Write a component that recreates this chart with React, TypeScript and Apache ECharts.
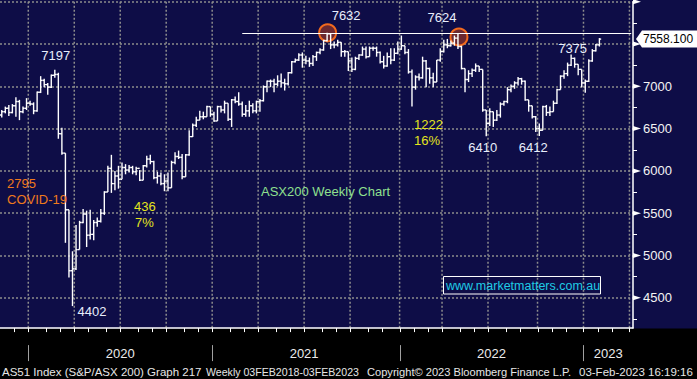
import { useEffect, useRef } from 'react';
import * as echarts from 'echarts';

// ---------- data ----------
const FIRST_WEEK = '2019-11-08';
const WEEK_COUNT = 179; // weekly categories (last ones are empty space on the right)
const weeks: string[] = Array.from({ length: WEEK_COUNT }, (_, i) =>
  new Date(Date.parse(FIRST_WEEK + 'T00:00:00Z') + i * 7 * 86400000).toISOString().slice(0, 10)
);

const open = [
  6660, 6700, 6740, 6690, 6770, 6820, 6700, 6740, 6800, 6790,
  6710, 6930, 7070, 7020, 6990, 7130, 7140, 6440, 6210, 5540,
  4820, 4842, 5070, 5390, 5490, 5240, 5250, 5390, 5405, 5500,
  5750, 6030, 5850, 5940, 5900, 6040, 6010, 6040, 5990, 6030,
  5890, 6060, 6140, 6110, 5920, 5940, 5850, 5880, 5800, 6100,
  6170, 6160, 5930, 6190, 6405, 6540, 6600, 6640, 6640, 6760,
  6670, 6590, 6760, 6720, 6800, 6610, 6840, 6820, 6790, 6670,
  6710, 6770, 6710, 6820, 6830, 6995, 7060, 7060, 7025, 7060,
  7040, 7030, 7160, 7290, 7310, 7370, 7310, 7300, 7270, 7350,
  7400, 7430, 7540, 7620, 7490, 7490, 7520, 7410, 7410, 7300,
  7200, 7330, 7370, 7440, 7350, 7450, 7450, 7400, 7290, 7240,
  7350, 7310, 7390, 7440, 7480, 7400, 7170, 6990, 7110, 7100,
  7300, 7210, 7100, 7050, 7310, 7410, 7490, 7480, 7510, 7570,
  7470, 7210, 7080, 7150, 7190, 7240, 7200, 6720, 6560, 6700,
  6600, 6660, 6790, 6820, 6960, 7000, 7040, 7090, 7060, 6840,
  6770, 6640, 6500, 6480, 6760, 6690, 6700, 6800, 6960, 7120,
  7150, 7250, 7330, 7260, 7200, 7040, 7060, 7300, 7420, 7490,
];
const high = [
  6720, 6760, 6780, 6790, 6870, 6840, 6760, 6860, 6830, 6810,
  6940, 7120, 7090, 7040, 7140, 7197, 7160, 6510, 6210, 5540,
  5050, 5360, 5410, 5550, 5530, 5540, 5420, 5450, 5550, 5760,
  6060, 6190, 6000, 6060, 6100, 6080, 6070, 6060, 6050, 6010,
  6070, 6180, 6190, 6120, 5990, 5980, 5960, 5980, 6120, 6220,
  6240, 6200, 6200, 6480, 6560, 6640, 6710, 6700, 6770, 6760,
  6700, 6770, 6770, 6830, 6800, 6850, 6880, 6930, 6820, 6780,
  6830, 6800, 6830, 6850, 7010, 7070, 7080, 7090, 7130, 7150,
  7090, 7170, 7300, 7330, 7390, 7400, 7360, 7340, 7370, 7410,
  7450, 7550, 7632, 7620, 7530, 7550, 7520, 7430, 7410, 7340,
  7350, 7380, 7470, 7470, 7470, 7470, 7470, 7410, 7360, 7400,
  7450, 7450, 7530, 7600, 7480, 7440, 7200, 7130, 7150, 7350,
  7310, 7220, 7160, 7310, 7450, 7550, 7560, 7540, 7600, 7624,
  7480, 7210, 7190, 7210, 7270, 7240, 7200, 6720, 6740, 6700,
  6720, 6810, 6830, 6990, 7020, 7060, 7110, 7100, 7070, 6840,
  6770, 6650, 6560, 6770, 6780, 6760, 6830, 6970, 7130, 7190,
  7280, 7375, 7340, 7260, 7200, 7080, 7320, 7440, 7500, 7570,
];
const low = [
  6630, 6680, 6650, 6680, 6640, 6600, 6680, 6720, 6770, 6670,
  6700, 6920, 6990, 6900, 6980, 7100, 6380, 6190, 5150, 4740,
  4402, 4830, 5070, 5380, 5100, 5190, 5180, 5340, 5390, 5480,
  5750, 5740, 5770, 5790, 5900, 5960, 5980, 5960, 5950, 5880,
  5890, 6040, 6080, 5900, 5850, 5830, 5760, 5760, 5800, 6080,
  6140, 5900, 5930, 6180, 6400, 6520, 6600, 6610, 6640, 6640,
  6580, 6590, 6690, 6680, 6590, 6520, 6800, 6770, 6640, 6640,
  6640, 6680, 6680, 6700, 6820, 6930, 6990, 6930, 7000, 6990,
  6950, 7010, 7150, 7280, 7300, 7220, 7260, 7230, 7240, 7300,
  7380, 7420, 7530, 7440, 7450, 7470, 7350, 7350, 7180, 7170,
  7190, 7310, 7360, 7330, 7350, 7420, 7350, 7270, 7210, 7230,
  7260, 7300, 7380, 7430, 7380, 7150, 6760, 6960, 7070, 7090,
  6990, 7030, 6990, 7050, 7290, 7400, 7450, 7470, 7480, 7440,
  7200, 6930, 7050, 7110, 7170, 7170, 6700, 6410, 6530, 6520,
  6590, 6630, 6770, 6800, 6930, 6970, 7010, 7020, 6830, 6700,
  6620, 6460, 6412, 6480, 6650, 6650, 6700, 6790, 6960, 7090,
  7120, 7240, 7220, 7130, 6990, 6925, 7050, 7290, 7410, 7470,
];
const close = [
  6700, 6740, 6690, 6770, 6820, 6700, 6740, 6800, 6790, 6710,
  6930, 7070, 7020, 6990, 7130, 7140, 6440, 6210, 5540, 4820,
  4842, 5070, 5390, 5490, 5240, 5250, 5390, 5405, 5500, 5750,
  6030, 5850, 5940, 5900, 6040, 6010, 6040, 5990, 6030, 5890,
  6060, 6140, 6110, 5920, 5940, 5850, 5880, 5800, 6100, 6170,
  6160, 5930, 6190, 6405, 6540, 6600, 6640, 6640, 6760, 6670,
  6590, 6760, 6720, 6800, 6610, 6840, 6820, 6790, 6670, 6710,
  6770, 6710, 6820, 6830, 6995, 7060, 7060, 7025, 7060, 7040,
  7030, 7160, 7290, 7310, 7370, 7310, 7300, 7270, 7350, 7400,
  7430, 7540, 7620, 7490, 7490, 7520, 7410, 7410, 7300, 7200,
  7330, 7370, 7440, 7350, 7450, 7450, 7400, 7290, 7240, 7350,
  7310, 7390, 7440, 7480, 7400, 7170, 6990, 7110, 7100, 7300,
  7210, 7100, 7050, 7310, 7410, 7490, 7480, 7510, 7570, 7470,
  7210, 7080, 7150, 7190, 7240, 7200, 6720, 6560, 6700, 6600,
  6660, 6790, 6820, 6960, 7000, 7040, 7090, 7060, 6840, 6770,
  6640, 6500, 6480, 6760, 6690, 6700, 6800, 6960, 7120, 7150,
  7250, 7330, 7260, 7200, 7040, 7060, 7300, 7420, 7490, 7558,
];

// labelled extremes [week, value]
const extremeWeeks = ['2020-02-21', '2021-08-13', '2022-04-29', '2022-12-09', '2022-06-24', '2022-10-07', '2020-03-27'];
const extremeValues = [7197, 7632, 7624, 7375, 6410, 6412, 4402];
// circled highs
const circledWeeks = ['2021-08-13', '2022-04-29'];
const circledValues = [7632, 7624];
// resistance line
const RESISTANCE = 7632;
const RESISTANCE_FROM = '2021-02-26';
const LAST_PRICE = 7558.1;
const LAST_PRICE_TEXT = '7558.100';
// axis
const PRICE_MIN = 4000;
const PRICE_MAX = 8000;
const PRICE_STEP = 500;
const priceTicks = [4500, 5000, 5500, 6000, 6500, 7000, 7500, 8000];
const hiddenPriceLabels = [4000, 7500, 8000]; // off the plot or covered by the last-price tag
const yearLabelWeeks = ['2020-06-26', '2021-06-25', '2022-07-01', '2023-02-17'];

// ---------- styles ----------
const FONT = "'Liberation Sans', Arial, sans-serif";
const NAVY = '#0e0d47';
const GRID_COLOR = '#8c8c8c';
const AXIS_LIFT = 12; // x axis drawn 12px above the grid bottom

const calendar = weeks
  .map((w, i) => {
    if (i === 0) return null;
    const m = w.slice(5, 7);
    if (m === weeks[i - 1].slice(5, 7)) return null;
    const q = ['01', '04', '07', '10'].includes(m) ? 1 : 0;
    const y = m === '01' ? 1 : 0;
    return [i, PRICE_MIN, q, y];
  })
  .filter(Boolean) as number[][];

const labelOffsets: [number, number][] = [
  [1, -14], [19, -17], [-16, -16], [1.5, -6], [-3.5, 11], [-6, 11], [19.5, 5],
];

function buildGraphic(tagY: number | null) {
  const txt = (id: string, text: string, x: number, y: number, fill: string, size = 13) => ({
    type: 'text', id, x, y, z: 20, silent: true,
    style: { text, fill, fontSize: size, fontFamily: FONT, align: 'left', verticalAlign: 'middle' },
  });
  const g: any[] = [
    { type: 'rect', id: 'band', z: 5, silent: true, shape: { x: 0, y: 328.5, width: 697, height: 51 }, style: { fill: '#000' } },
    txt('t2795', '2795', 7, 183, '#f07a1c'),
    txt('tcovid', 'COVID-19', 7, 199, '#f07a1c'),
    txt('t436', '436', 134, 206, '#e4e41e'),
    txt('t7', '7%', 135, 222, '#e4e41e'),
    txt('t1222', '1222', 414, 124, '#e4e41e'),
    txt('t16', '16%', 414, 140, '#e4e41e'),
    txt('ttitle', 'ASX200 Weekly Chart', 261, 191, '#8fe08f'),
    { type: 'rect', id: 'webbox', z: 20, silent: true, shape: { x: 443.5, y: 276.5, width: 157, height: 17.5 }, style: { fill: 'none', stroke: '#ffffff', lineWidth: 1 } },
    txt('tweb', 'www.marketmatters.com.au', 446, 285.5, '#1fcbe4', 12.5),
    txt('f1', 'AS51 Index (S&P/ASX 200) Graph 217', 2, 371.5, '#e6e6e6', 11.5),
    txt('f2', 'Weekly 03FEB2018-03FEB2023', 206, 371.5, '#e6e6e6', 10.6),
    txt('f3', 'Copyright\u00a9 2023 Bloomberg Finance L.P.', 367, 371.5, '#e6e6e6', 11.1),
    txt('f4', '03-Feb-2023 16:19:16', 579, 371.5, '#e6e6e6', 11.5),
  ];
  if (tagY != null) {
    g.push({
      type: 'polygon', id: 'tag', z: 20, silent: true,
      shape: { points: [[636, tagY], [642, tagY - 8.5], [697, tagY - 8.5], [697, tagY + 8.5], [642, tagY + 8.5]] },
      style: { fill: '#ffffff' },
    });
    g.push({
      type: 'text', id: 'tagtext', z: 21, silent: true, x: 643, y: tagY,
      style: { text: LAST_PRICE_TEXT, fill: '#000', fontSize: 12, fontFamily: FONT, align: 'left', verticalAlign: 'middle' },
    });
  }
  return g;
}

function buildOption(): any {
  const ohlc = close.map((c, i) => [i, open[i], high[i], low[i], c]);
  return {
    animation: false,
    backgroundColor: NAVY,
    grid: { left: 0, right: 64, top: 1.7, bottom: 38.9, containLabel: false },
    xAxis: [
      {
        type: 'category', data: weeks, boundaryGap: true, position: 'bottom', offset: -AXIS_LIFT, z: 10,
        axisLine: { show: true, lineStyle: { color: '#ffffff', width: 1.5 } },
        axisTick: { show: false }, axisLabel: { show: false }, splitLine: { show: false },
      },
      {
        type: 'category', data: weeks, boundaryGap: true, position: 'bottom', offset: 5, z: 10,
        axisLine: { show: false }, axisTick: { show: false }, splitLine: { show: false },
        axisLabel: {
          show: true, interval: (_i: number, v: string) => yearLabelWeeks.includes(v),
          formatter: (v: string) => v.slice(0, 4), color: '#ececec', fontSize: 13, fontFamily: FONT,
          margin: 2, padding: [0, 0, 0, 3.5],
        },
      },
    ],
    yAxis: {
      type: 'value', position: 'right', min: PRICE_MIN, max: PRICE_MAX, interval: PRICE_STEP, z: 0,
      axisLine: { show: true, lineStyle: { color: '#ffffff', width: 1.5 } },
      axisTick: { show: true, length: 4, lineStyle: { color: '#ffffff', width: 1 } },
      minorTick: { show: true, splitNumber: 2, length: 4, lineStyle: { color: '#ffffff', width: 1 } },
      axisLabel: {
        color: '#f4f4f4', fontSize: 13, fontFamily: FONT, margin: 10,
        formatter: (v: number) => (hiddenPriceLabels.includes(v) ? '' : String(v)),
      },
      splitLine: { show: true, lineStyle: { color: GRID_COLOR, width: 1.5, type: [2, 2] } },
    },
    graphic: buildGraphic(null),
    series: [
      {
        // quarterly vertical grid lines
        type: 'custom', silent: true, z: 1, encode: { x: 0, y: 1 },
        data: calendar.filter((d) => d[2] === 1),
        renderItem: (params: any, api: any) => {
          const cs = params.coordSys;
          const x = api.coord([api.value(0), PRICE_MIN])[0] - api.size([1, 0])[0] / 2;
          return {
            type: 'line', shape: { x1: x, y1: cs.y, x2: x, y2: cs.y + cs.height - AXIS_LIFT },
            style: { stroke: GRID_COLOR, lineWidth: 1.5, lineDash: [2, 2] },
          };
        },
      },
      {
        // monthly ticks and year separators below the plot
        type: 'custom', silent: true, z: 10, encode: { x: 0, y: 1 },
        data: calendar,
        renderItem: (params: any, api: any) => {
          const cs = params.coordSys;
          const x = Math.round(api.coord([api.value(0), PRICE_MIN])[0] - api.size([1, 0])[0] / 2) + 0.5;
          const ay = cs.y + cs.height - AXIS_LIFT;
          const kids: any[] = [
            { type: 'line', shape: { x1: x, y1: ay, x2: x, y2: ay + 4 }, style: { stroke: '#ffffff', lineWidth: 1 } },
          ];
          if (api.value(3) === 1) {
            kids.push({ type: 'line', shape: { x1: x, y1: ay + 17, x2: x, y2: ay + 33 }, style: { stroke: '#a0a0a0', lineWidth: 1 } });
          }
          return { type: 'group', children: kids };
        },
      },
      {
        // arrow heads on the price axis
        type: 'custom', silent: true, z: 4, encode: { x: 0, y: 1 },
        data: priceTicks.map((v) => [0, v]),
        renderItem: (params: any, api: any) => {
          const cs = params.coordSys;
          const y = api.coord([0, api.value(1)])[1];
          const x = cs.x + cs.width;
          return { type: 'polygon', shape: { points: [[x, y - 2.5], [x + 8, y], [x, y + 2.5]] }, style: { fill: '#ffffff' } };
        },
      },
      {
        name: 'AS51', type: 'custom', z: 3, encode: { x: 0, y: [1, 2, 3, 4] }, data: ohlc,
        renderItem: (_params: any, api: any) => {
          const i = api.value(0);
          const o = api.coord([i, api.value(1)]);
          const h = api.coord([i, api.value(2)]);
          const l = api.coord([i, api.value(3)]);
          const c = api.coord([i, api.value(4)]);
          const half = api.size([1, 0])[0] / 2;
          const x = o[0];
          const style = { stroke: '#ffffff', lineWidth: 1.4 };
          return {
            type: 'group',
            children: [
              { type: 'line', shape: { x1: x, y1: h[1], x2: x, y2: l[1] }, style },
              { type: 'line', shape: { x1: x - half, y1: o[1], x2: x, y2: o[1] }, style },
              { type: 'line', shape: { x1: x, y1: c[1], x2: x + half, y2: c[1] }, style },
            ],
          };
        },
      },
      {
        // circles around the two highs (below the bars)
        type: 'line', data: close, symbol: 'none', silent: true, z: 2, lineStyle: { opacity: 0 },
        markPoint: {
          z: 2, silent: true,
          data: circledWeeks.map((w, k) => ({
            coord: [w, circledValues[k]], symbol: 'circle', symbolSize: 17,
            symbolOffset: [k === 0 ? 0.5 : 1, k === 0 ? 0 : 3.5],
            itemStyle: { color: '#6b2830', borderColor: '#f26a1e', borderWidth: 2 },
            label: { show: false },
          })),
        },
      },
      {
        // labels and resistance line
        type: 'line', data: close, symbol: 'none', silent: true, z: 6, lineStyle: { opacity: 0 },
        markPoint: {
          z: 6, silent: true,
          data: extremeWeeks.map((w, k) => ({
            coord: [w, extremeValues[k]], value: extremeValues[k], symbol: 'circle', symbolSize: 1,
            itemStyle: { color: 'rgba(0,0,0,0)' },
            label: {
              show: true, position: 'inside', offset: labelOffsets[k], formatter: '{c}',
              color: '#e8eefc', fontSize: 13, fontFamily: FONT,
            },
          })),
        },
        markLine: {
          z: 6, silent: true, symbol: ['none', 'none'], label: { show: false },
          lineStyle: { color: '#ffffff', width: 1, type: 'solid' },
          data: [[{ coord: [RESISTANCE_FROM, RESISTANCE] }, { coord: [weeks[WEEK_COUNT - 1], RESISTANCE] }]],
        },
      },
    ],
  };
}

export default function App() {
  const ref = useRef<HTMLDivElement>(null);
  useEffect(() => {
    document.body.style.margin = '0';
    const chart = echarts.init(ref.current!, undefined, { renderer: 'svg' });
    chart.setOption(buildOption());
    const tagY = chart.convertToPixel({ yAxisIndex: 0 }, LAST_PRICE) as number;
    chart.setOption({ graphic: buildGraphic(tagY) });
    return () => chart.dispose();
  }, []);
  return <div ref={ref} style={{ width: 697, height: 379 }} />;
}
